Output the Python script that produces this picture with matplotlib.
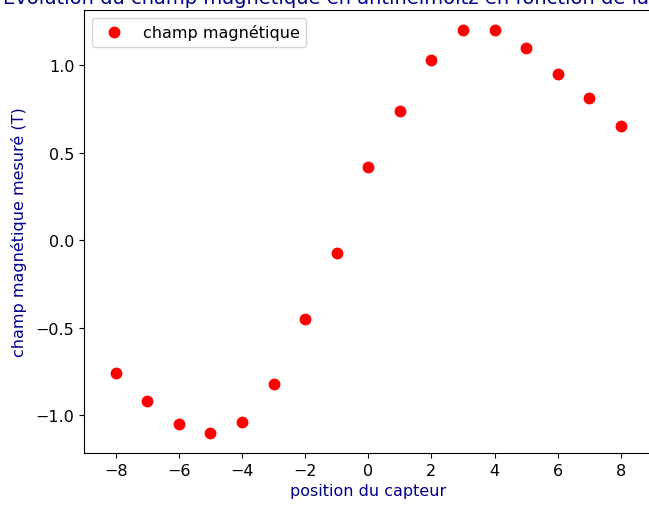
import matplotlib
matplotlib.use("Agg")
import matplotlib.pyplot as plt

positions = [-8, -7, -6, -5, -4, -3, -2, -1, 0, 1, 2, 3, 4, 5, 6, 7, 8]
champ = [-0.76, -0.92, -1.05, -1.10, -1.04, -0.82, -0.45, -0.07, 0.42,
         0.74, 1.03, 1.20, 1.20, 1.10, 0.95, 0.81, 0.65]

W, H = 649, 506
fig = plt.figure(figsize=(W / 100, H / 100), dpi=100)
ax = fig.add_axes([84 / W, (H - 454) / H, (652.5 - 84) / W, (454 - 11) / H])

ax.plot(positions, champ, 'o', color='red', markersize=7.5, label='champ magnétique')
ax.set_xlim(-9, 9)
ax.set_ylim(-1.215, 1.315)
ax.set_xticks([-8, -6, -4, -2, 0, 2, 4, 6, 8])
ax.set_yticks([-1.0, -0.5, 0.0, 0.5, 1.0])
ax.tick_params(labelsize=11.5)
ax.set_xlabel('position du capteur', color='darkblue', fontsize=11.5)
ax.set_ylabel('champ magnétique mesuré (T)', color='darkblue', fontsize=11.5, labelpad=6)
ax.set_title("Évolution du champ magnétique en antihelmoltz en fonction de la position",
             color='darkblue', fontsize=14, pad=5)
ax.legend(loc='upper left', fontsize=11.5)

fig.savefig('out.png', dpi=100)
